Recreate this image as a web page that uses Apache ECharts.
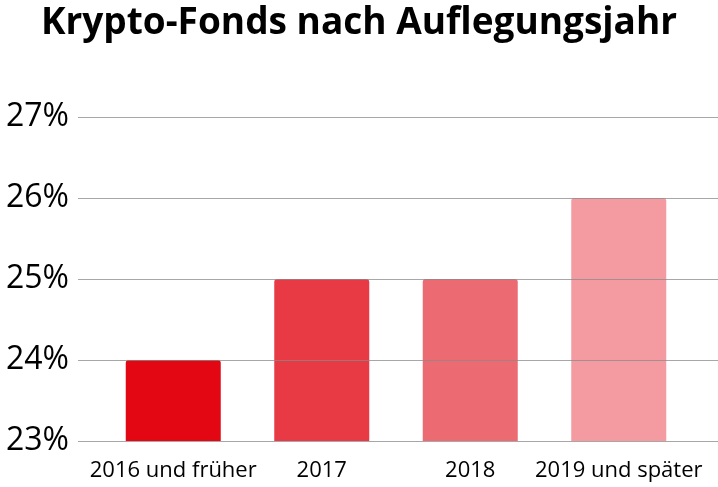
<!DOCTYPE html>
<html>
<head>
<meta charset="utf-8">
<script src="https://cdn.jsdelivr.net/npm/echarts@6/dist/echarts.min.js"></script>
<style>
  html, body { margin: 0; padding: 0; background: #fff; }
  #chart { width: 718px; height: 487px; }
</style>
</head>
<body>
<div id="chart"></div>
<script>
var categories = ['2016 und früher', '2017', '2018', '2019 und später'];
var values = [24, 25, 25, 26];
var barColors = ['#e30613', '#e83a45', '#ec6a71', '#f39ba1'];
var yTicks = [23, 24, 25, 26, 27];

var chart = echarts.init(document.getElementById('chart'));

var fontName = '"Open Sans", "DejaVu Sans", sans-serif';

chart.setOption({
    animation: false,
    title: {
        text: 'Krypto-Fonds nach Auflegungsjahr',
        left: 'center',
        top: 0,
        textStyle: {
            fontFamily: fontName,
            fontSize: 37,
            fontWeight: 'bold',
            color: '#000'
        }
    },
    grid: [
        // grid for axis labels and gridlines (full width)
        { left: 78, right: 0, top: 117, bottom: 46 },
        // grid for the bars
        { left: 99, right: 25, top: 117, bottom: 46 }
    ],
    xAxis: [
        { type: 'value', gridIndex: 0, show: false, min: 0, max: 1 },
        {
            type: 'category',
            gridIndex: 1,
            data: categories,
            axisLine: { show: false },
            axisTick: { show: false },
            axisLabel: {
                interval: 0,
                fontFamily: fontName,
                fontSize: 22,
                color: '#000',
                margin: 19
            }
        }
    ],
    yAxis: [
        {
            type: 'value',
            gridIndex: 0,
            min: yTicks[0],
            max: yTicks[yTicks.length - 1],
            interval: 1,
            z: 5,
            axisLine: { show: false },
            axisTick: { show: false },
            axisLabel: {
                fontFamily: fontName,
                fontSize: 32,
                color: '#000',
                margin: 9,
                formatter: function (v) { return v + '%'; }
            },
            splitLine: { lineStyle: { color: '#8a8a8a', width: 1, opacity: 0.75 } }
        },
        {
            type: 'value',
            gridIndex: 1,
            min: yTicks[0],
            max: yTicks[yTicks.length - 1],
            interval: 1,
            show: false
        }
    ],
    series: [{
        type: 'bar',
        xAxisIndex: 1,
        yAxisIndex: 1,
        barWidth: 95,
        data: values.map(function (v, i) {
            return { value: v, itemStyle: { color: barColors[i], borderRadius: [3, 3, 0, 0] } };
        })
    }]
});
</script>
</body>
</html>
